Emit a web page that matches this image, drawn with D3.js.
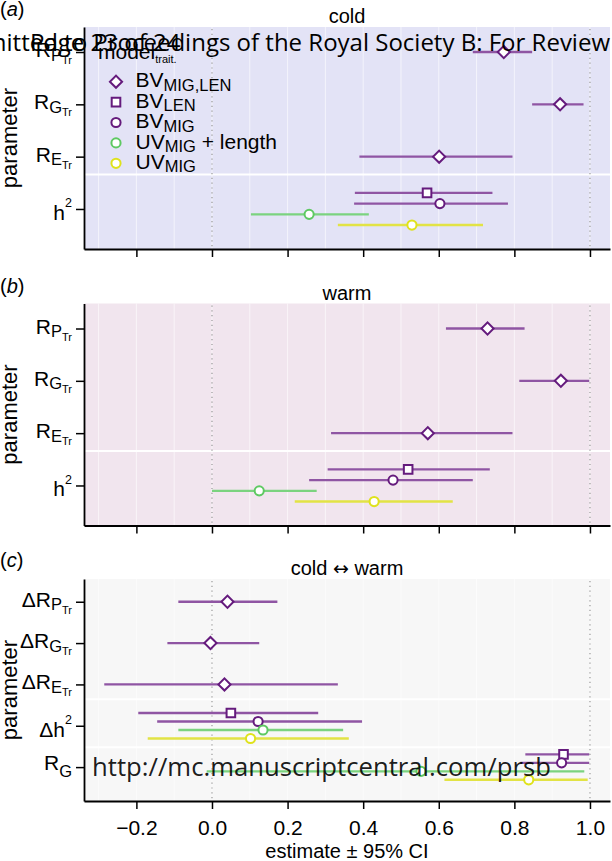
<html>
<head>
<meta charset="utf-8">
<script src="https://d3js.org/d3.v7.min.js"></script>
<style>
  body { margin: 0; background: #fff; }
  text { font-family: "Liberation Sans", Arial, sans-serif; fill: #000; }
</style>
</head>
<body>
<svg id="chart" width="612" height="861"></svg>
<script>
// ---- data ----
const models = ["BV_MIG,LEN", "BV_LEN", "BV_MIG", "UV_MIG + length", "UV_MIG"];
const modelShapes = ["diamond", "square", "circle", "circle", "circle"];
const modelColors = ["#651b7d", "#651b7d", "#651b7d", "#5ec962", "#dfe21c"];
const lineColors = ["#8f55a3", "#8f55a3", "#8f55a3", "#7bd37f", "#e2e345"];

const xTicks = [-0.2, 0.0, 0.2, 0.4, 0.6, 0.8, 1.0];

// panel a: cold
const coldParam = [0, 1, 2, 3, 3, 3, 3];
const coldModel = [0, 0, 0, 1, 2, 3, 4];
const coldEst = [0.772, 0.921, 0.601, 0.569, 0.603, 0.257, 0.529];
const coldLo  = [0.690, 0.847, 0.390, 0.378, 0.376, 0.103, 0.333];
const coldHi  = [0.847, 0.983, 0.795, 0.742, 0.783, 0.415, 0.717];

// panel b: warm
const warmParam = [0, 1, 2, 3, 3, 3, 3];
const warmModel = [0, 0, 0, 1, 2, 3, 4];
const warmEst = [0.729, 0.923, 0.571, 0.519, 0.479, 0.125, 0.429];
const warmLo  = [0.619, 0.813, 0.315, 0.306, 0.257, 0.000, 0.219];
const warmHi  = [0.827, 0.998, 0.795, 0.735, 0.690, 0.277, 0.637];

// panel c: cold <-> warm
const diffParam = [0, 1, 2, 3, 3, 3, 3, 4, 4, 4, 4];
const diffModel = [0, 0, 0, 1, 2, 3, 4, 1, 2, 3, 4];
const diffEst = [0.041, -0.004, 0.033, 0.050, 0.122, 0.135, 0.102, 0.930, 0.925, 0.553, 0.838];
const diffLo  = [-0.089, -0.118, -0.285, -0.195, -0.145, -0.089, -0.170, 0.829, 0.816, -0.014, 0.615];
const diffHi  = [0.173, 0.125, 0.333, 0.281, 0.397, 0.347, 0.362, 0.998, 0.998, 0.985, 0.994];

// tick labels as [text, level] pieces
const envLabels = [
  [["R", 0], ["P", 1], ["Tr", 2]],
  [["R", 0], ["G", 1], ["Tr", 2]],
  [["R", 0], ["E", 1], ["Tr", 2]],
  [["h", 0], ["2", "u"]]
];
const diffLabels = [
  [["\u0394R", 0], ["P", 1], ["Tr", 2]],
  [["\u0394R", 0], ["G", 1], ["Tr", 2]],
  [["\u0394R", 0], ["E", 1], ["Tr", 2]],
  [["\u0394h", 0], ["2", "u"]],
  [["R", 0], ["G", "s"]]
];
const legendLabels = [
  [["BV", 0], ["MIG,LEN", 1]],
  [["BV", 0], ["LEN", 1]],
  [["BV", 0], ["MIG", 1]],
  [["UV", 0], ["MIG", 1], ["\u00a0+ length", 0]],
  [["UV", 0], ["MIG", 1]]
];

// ---- drawing ----
const svg = d3.select("#chart");
const x = d3.scaleLinear().domain([-0.3386, 1.053]).range([84, 610]);
const gridVals = d3.range(-3, 11).map(d => d / 10);

const levels = {
  0: { size: 21, shift: 0 },
  1: { size: 16.5, shift: 3.5 },
  2: { size: 11, shift: 7 },
  s: { size: 16.5, shift: 7 },
  u: { size: 12.5, shift: -12.5 },
  t: { size: 11, shift: 4 }
};

function rich(t, parts) {
  let cur = 0;
  parts.forEach(([s, lvl]) => {
    const st = levels[lvl];
    t.append("tspan").attr("dy", st.shift - cur).style("font-size", st.size + "px").text(s);
    cur = st.shift;
  });
}

function symbolPath(shape) {
  if (shape === "circle") return d3.symbol().type(d3.symbolCircle).size(66)();
  return d3.symbol().type(d3.symbolSquare).size(74)();
}

function drawPanel(cfg) {
  const y = d3.scaleLinear().domain(cfg.yDomain).range([cfg.top, cfg.bottom]);
  const g = svg.append("g");
  const [x0, x1] = x.range();

  g.append("rect").attr("x", x0).attr("y", cfg.top)
    .attr("width", x1 - x0).attr("height", cfg.bottom - cfg.top)
    .attr("fill", cfg.bg);

  g.selectAll(".vg").data(gridVals).join("line")
    .attr("x1", d => x(d)).attr("x2", d => x(d))
    .attr("y1", cfg.top).attr("y2", cfg.bottom)
    .attr("stroke", "#fff").attr("stroke-opacity", 0.6).attr("stroke-width", 1);

  g.selectAll(".hg").data(cfg.seps).join("line")
    .attr("x1", x0).attr("x2", x1)
    .attr("y1", d => y(d)).attr("y2", d => y(d))
    .attr("stroke", "#fff").attr("stroke-width", 2);

  g.selectAll(".ref").data([0, 1]).join("line")
    .attr("x1", d => x(d)).attr("x2", d => x(d))
    .attr("y1", cfg.top + 2).attr("y2", cfg.bottom)
    .attr("stroke", "#999").attr("stroke-width", 1.2)
    .attr("stroke-dasharray", "1.2,3.6");

  const rows = cfg.est.map((e, i) => {
    const m = cfg.model[i];
    const off = m === 0 ? 0 : (m - 2.5) * 0.205;
    return { est: e, lo: cfg.lo[i], hi: cfg.hi[i], m: m, yy: y(cfg.param[i] + off) };
  });

  g.selectAll(".bar").data(rows).join("line")
    .attr("x1", d => x(d.lo)).attr("x2", d => x(d.hi))
    .attr("y1", d => d.yy).attr("y2", d => d.yy)
    .attr("stroke", d => lineColors[d.m]).attr("stroke-width", 2.4);

  g.selectAll(".pt").data(rows).join("path")
    .attr("d", d => symbolPath(modelShapes[d.m]))
    .attr("transform", d => `translate(${x(d.est)},${d.yy})` + (modelShapes[d.m] === "diamond" ? " rotate(45)" : ""))
    .attr("fill", "#fff").attr("stroke", d => modelColors[d.m]).attr("stroke-width", 2);

  // axes
  const xa = g.append("g").attr("transform", `translate(0,${cfg.bottom})`)
    .call(d3.axisBottom(x).tickValues(xTicks).tickSize(8).tickSizeOuter(0).tickPadding(11)
      .tickFormat(cfg.xLabels ? d3.format(".1f") : ""));
  xa.select(".domain").attr("stroke-width", 1.8);
  xa.selectAll(".tick line").attr("stroke-width", 1.5);
  xa.selectAll(".tick text").style("font-size", "21px").attr("fill", "#000");

  const idx = d3.range(cfg.labels.length);
  const ya = g.append("g").attr("transform", `translate(${x0},0)`)
    .call(d3.axisLeft(y).tickValues(idx).tickSize(8).tickSizeOuter(0).tickFormat(""));
  ya.select(".domain").attr("stroke-width", 1.8);
  ya.selectAll(".tick line").attr("stroke-width", 1.5);

  cfg.labels.forEach((parts, i) => {
    const hasSup = parts.some(p => p[1] === "u");
    const hasSub2 = parts.some(p => p[1] === 2);
    const base = hasSup ? 11 : (hasSub2 ? 5 : 3);
    const t = g.append("text").attr("x", x0 - 12).attr("y", y(i) + base)
      .attr("text-anchor", "end");
    rich(t, parts);
  });

  const tt = g.append("text").attr("x", (x0 + x1) / 2).attr("y", cfg.top - 4)
    .attr("text-anchor", "middle").style("font-size", "20px");
  cfg.title.forEach(([s, arrow]) => {
    const sp = tt.append("tspan").text(s);
    if (arrow) sp.style("font-family", "'DejaVu Sans'").style("font-size", "19px");
  });

  g.append("text").attr("transform", `translate(17,${(cfg.top + cfg.bottom) / 2}) rotate(-90)`)
    .attr("text-anchor", "middle").style("font-size", "22px").text("parameter");

  const pl = g.append("text").attr("x", 0).attr("y", cfg.labelY).style("font-size", "20px");
  pl.append("tspan").text("(");
  pl.append("tspan").style("font-style", "italic").text(cfg.letter);
  pl.append("tspan").text(")");
}

drawPanel({ top: 27, bottom: 249, yDomain: [-0.478, 3.765], bg: "#e3e3f6", seps: [2.34],
  param: coldParam, model: coldModel, est: coldEst, lo: coldLo, hi: coldHi,
  labels: envLabels, title: [["cold", false]], letter: "a", labelY: 16, xLabels: false });

drawPanel({ top: 303.5, bottom: 525.5, yDomain: [-0.478, 3.765], bg: "#f1e5ee", seps: [2.34],
  param: warmParam, model: warmModel, est: warmEst, lo: warmLo, hi: warmHi,
  labels: envLabels, title: [["warm", false]], letter: "b", labelY: 292.5, xLabels: false });

drawPanel({ top: 579, bottom: 801, yDomain: [-0.55, 4.82], bg: "#f7f7f7", seps: [2.36, 3.52],
  param: diffParam, model: diffModel, est: diffEst, lo: diffLo, hi: diffHi,
  labels: diffLabels, title: [["cold ", false], ["\u2194", true], [" warm", false]],
  letter: "c", labelY: 566.5, xLabels: true });

svg.append("text").attr("x", 347).attr("y", 858).attr("text-anchor", "middle")
  .style("font-size", "20px").text("estimate \u00b1 95% CI");

// legend
const lg = svg.append("g");
const lt = lg.append("text").attr("x", 98).attr("y", 59).style("font-size", "21px");
rich(lt, [["model", 0], ["trait.", "t"]]);
legendLabels.forEach((parts, i) => {
  const yy = 81.7 + i * 20.4;
  lg.append("path").attr("d", symbolPath(modelShapes[i]))
    .attr("transform", `translate(116,${yy})` + (modelShapes[i] === "diamond" ? " rotate(45)" : ""))
    .attr("fill", "#fff").attr("stroke", modelColors[i]).attr("stroke-width", 2);
  const t = lg.append("text").attr("x", 135.5).attr("y", yy + 5.6);
  rich(t, parts);
});

// manuscript overlay texts
svg.append("text").attr("x", 610).attr("y", 51).attr("text-anchor", "end")
  .style("font-family", "'Open Sans'").style("font-size", "24px")
  .text("Submitted to Proceedings of the Royal Society B: For Review");
svg.append("text").attr("x", 30).attr("y", 51)
  .style("font-family", "'Open Sans'").style("font-size", "24px")
  .text("Page 23 of 24");
svg.append("text").attr("x", 92).attr("y", 776)
  .style("font-family", "'Open Sans'").style("font-size", "25.7px")
  .attr("fill", "#6e6e6e").attr("fill-opacity", 0.9)
  .text("http://mc.manuscriptcentral.com/prsb");
</script>
</body>
</html>
